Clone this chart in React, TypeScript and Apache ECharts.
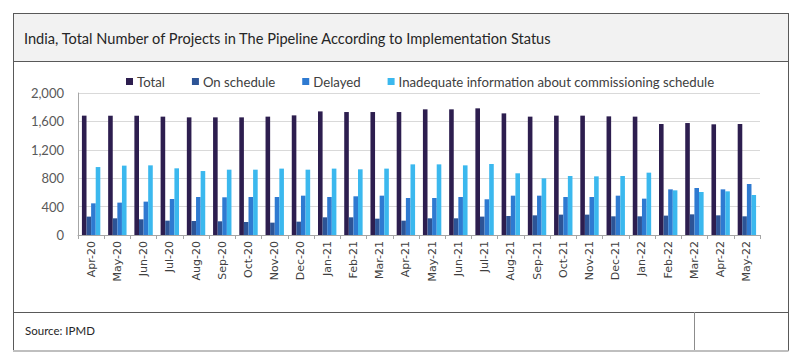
import React, { useEffect, useRef } from "react";
import * as echarts from "echarts";

const categories = [
  "Apr-20", "May-20", "Jun-20", "Jul-20", "Aug-20", "Sep-20", "Oct-20", "Nov-20", "Dec-20",
  "Jan-21", "Feb-21", "Mar-21", "Apr-21", "May-21", "Jun-21", "Jul-21", "Aug-21", "Sep-21",
  "Oct-21", "Nov-21", "Dec-21", "Jan-22", "Feb-22", "Mar-22", "Apr-22", "May-22",
];
const total = [
  1681, 1680, 1680, 1667, 1657, 1657, 1657, 1667, 1685,
  1741, 1732, 1732, 1732, 1770, 1770, 1784, 1713, 1667,
  1681, 1681, 1671, 1667, 1563, 1577, 1559, 1563,
];
const onSchedule = [
  259, 235, 221, 202, 197, 193, 183, 174, 188,
  249, 249, 230, 202, 235, 235, 259, 268, 277,
  287, 287, 263, 263, 273, 291, 277, 263,
];
const delayed = [
  446, 456, 470, 507, 535, 531, 535, 535, 554,
  535, 545, 554, 521, 521, 535, 503, 554, 554,
  535, 535, 554, 512, 643, 662, 643, 718,
];
const inadequate = [
  957, 977, 981, 939, 901, 920, 920, 935, 920,
  935, 925, 935, 995, 995, 981, 1000, 869, 798,
  831, 826, 831, 878, 629, 606, 615, 563,
];
const seriesNames = [
  "Total",
  "On schedule",
  "Delayed",
  "Inadequate information about commissioning schedule",
];
const colors = ["#2d1e4f", "#2d5496", "#2e7ad1", "#3bb8ee"];
const titleText = "India, Total Number of Projects in The Pipeline According to Implementation Status";
const sourceText = "Source: IPMD";

export default function App() {
  const ref = useRef<HTMLDivElement>(null);
  useEffect(() => {
    if (!ref.current) return;
    const chart = echarts.init(ref.current, null, { renderer: "svg" });
    const dataSets = [total, onSchedule, delayed, inadequate];
    const border = "#595959";
    chart.setOption({
      animation: false,
      backgroundColor: "#ffffff",
      graphic: [
        { type: "rect", shape: { x: 13, y: 13, width: 775, height: 48 }, style: { fill: "#f2f2f2" }, z: -10 },
        { type: "line", shape: { x1: 13, y1: 13.5, x2: 788.5, y2: 13.5 }, style: { stroke: border, lineWidth: 1 } },
        { type: "line", shape: { x1: 13.5, y1: 13, x2: 13.5, y2: 351 }, style: { stroke: border, lineWidth: 1 } },
        { type: "line", shape: { x1: 788.5, y1: 13, x2: 788.5, y2: 351 }, style: { stroke: border, lineWidth: 1 } },
        { type: "line", shape: { x1: 13, y1: 61.5, x2: 788.5, y2: 61.5 }, style: { stroke: border, lineWidth: 1 } },
        { type: "line", shape: { x1: 13, y1: 312.5, x2: 788.5, y2: 312.5 }, style: { stroke: border, lineWidth: 1 } },
        { type: "line", shape: { x1: 694.5, y1: 312, x2: 694.5, y2: 351 }, style: { stroke: "#8c8c8c", lineWidth: 1 } },
        { type: "line", shape: { x1: 13, y1: 351, x2: 788.5, y2: 351 }, style: { stroke: "#bfbfbf", lineWidth: 2 } },
        {
          type: "text",
          x: 24,
          y: 38,
          style: {
            text: titleText,
            fill: "#262626",
            font: "14.6px Lato",
            verticalAlign: "middle",
            align: "left",
          },
        },
        {
          type: "text",
          x: 25,
          y: 330,
          style: {
            text: sourceText,
            fill: "#262626",
            font: "11.5px Lato",
            verticalAlign: "middle",
            align: "left",
          },
        },
      ],
      legend: {
        left: 121,
        top: 70,
        icon: "rect",
        itemWidth: 7,
        itemHeight: 7,
        itemGap: 27,
        textStyle: { fontFamily: "Lato", fontSize: 13.2, color: "#404040", padding: [0, 0, 0, -1] },
        data: seriesNames,
      },
      grid: { left: 78, right: 40, top: 93, height: 142 },
      xAxis: {
        type: "category",
        data: categories,
        axisLine: { lineStyle: { color: "#a6a6a6" } },
        axisTick: { show: true, length: 4, alignWithLabel: false, lineStyle: { color: "#a6a6a6" } },
        axisLabel: {
          rotate: 90,
          interval: 0,
          margin: 6,
          fontFamily: "DejaVu Sans",
          fontSize: 11,
          color: "#404040",
        },
      },
      yAxis: {
        type: "value",
        min: 0,
        max: 2000,
        interval: 400,
        axisLine: { show: true, lineStyle: { color: "#a6a6a6" } },
        axisTick: { show: false },
        splitLine: { lineStyle: { color: "#d9d9d9" } },
        axisLabel: {
          margin: 14,
          fontFamily: "Lato",
          fontSize: 13,
          color: "#595959",
          formatter: (v: number) => v.toLocaleString("en-US"),
        },
      },
      series: dataSets.map((d, i) => ({
        name: seriesNames[i],
        type: "bar",
        data: d,
        barWidth: 4.6,
        barGap: "0%",
        itemStyle: { color: colors[i] },
      })),
    });
    return () => chart.dispose();
  }, []);
  return (
    <div
      ref={ref}
      style={{ position: "fixed", left: 0, top: 0, width: 800, height: 363 }}
    />
  );
}
